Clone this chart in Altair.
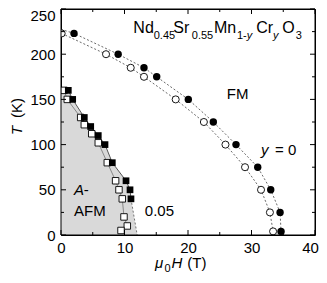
import altair as alt
import pandas as pd

FONT = "Liberation Sans"
W, H = 254, 226

# ---- data ----
circ_T = [223, 200, 185, 175, 150, 125, 100, 75, 50, 25, 4]
circ_H_filled = [2.05, 9.0, 13.07, 15.07, 20.05, 23.99, 27.56, 30.98, 33.03, 34.5, 34.65]
circ_H_open = [0.1, 7.09, 10.98, 13.07, 18.06, 22.5, 25.9, 28.98, 31.5, 32.9, 33.4]
line_f_H = [0.0] + circ_H_filled + [34.65]
line_f_T = [227.5] + circ_T + [0]
line_o_H = circ_H_open + [33.4]
line_o_T = circ_T + [0]

sq_f_T = [160, 150, 130, 120, 110, 100, 80, 60, 50, 40]
sq_f_H = [1.15, 1.84, 3.67, 4.68, 5.87, 6.93, 8.08, 10.24, 10.87, 11.02]
sq_o_T = [160, 150, 130, 122, 112, 102, 80, 60, 50, 40, 20, 10, 5]
sq_o_H = [0.47, 0.99, 3.1, 3.67, 4.84, 5.87, 7.29, 8.6, 9.13, 9.65, 9.92, 10.44, 9.45]
ext_H = [11.02, 12.0]
ext_T = [40, 0]

x_major = [0, 10, 20, 30, 40]
x_minor = [5, 15, 25, 35]
y_major = [0, 50, 100, 150, 200, 250]
y_minor = [25, 75, 125, 175, 225]

# text pieces: (text, H, T, size, italic)
texts = [
    ("Nd", 11.39, 223.1, 16, False),
    ("0.45", 14.6, 216.4, 11, False),
    ("Sr", 17.69, 223.1, 16, False),
    ("0.55", 20.6, 216.4, 11, False),
    ("Mn", 24.1, 223.1, 16, False),
    ("1-", 27.7, 216.4, 11, False),
    ("y", 29.25, 216.4, 11, True),
    ("Cr", 30.75, 223.1, 16, False),
    ("y", 33.4, 216.4, 11, True),
    ("O", 34.85, 223.1, 16, False),
    ("3", 36.95, 216.4, 11, False),
    ("FM", 26.1, 150.4, 15, False),
    ("y", 31.5, 88.5, 15, True),
    ("= 0", 33.7, 88.5, 15, False),
    ("A", 2.05, 44.2, 15, True),
    ("-", 3.6, 44.2, 15, False),
    ("AFM", 2.05, 21, 15, False),
    ("0.05", 13.2, 21, 15, False),
    ("\u03bc", 14.8, -36.5, 15, True),
    ("0", 16.3, -40.9, 11, False),
    ("H", 17.4, -36.5, 15, True),
    ("(T)", 19.9, -36.5, 15, False),
]
ytitle = [("T", -6.1, 110.6, True), ("(K)", -6.1, 129.4, False)]

xs = alt.Scale(domain=[0, 40], nice=False, zero=False)
ys = alt.Scale(domain=[0, 250], nice=False, zero=False)

X = alt.X("H:Q", scale=xs, title=None,
          axis=alt.Axis(values=x_major, ticks=False, tickSize=0, domain=False, grid=False,
                        labelFont=FONT, labelFontSize=15, labelColor="black", labelPadding=5,
                        labelFlush=False,
                        labelOffset={"condition": {"test": "datum.value == 40", "value": -5},
                                     "value": 0}))
Y = alt.Y("T:Q", scale=ys, title=None,
          axis=alt.Axis(values=y_major, ticks=False, tickSize=0, domain=False, grid=False,
                        labelFont=FONT, labelFontSize=15, labelColor="black", labelPadding=6,
                        labelFlush=False,
                        labelOffset={"condition": {"test": "datum.value == 250", "value": 6},
                                     "value": 0}))


def df_line(hs, ts):
    return pd.DataFrame({"H": hs, "T": ts, "i": list(range(len(hs)))})


# gray A-AFM region
area_df = pd.DataFrame({"H": sq_f_H + [ext_H[-1]], "T": sq_f_T + [ext_T[-1]],
                        "H0": [0.0] * (len(sq_f_H) + 1)})
area = alt.Chart(area_df).mark_area(orient="horizontal", color="#d9d9d9", clip=True).encode(
    y=Y, x=X, x2="H0:Q"
)

line_f = alt.Chart(df_line(line_f_H, line_f_T)).mark_line(
    color="#444", strokeWidth=0.8, strokeDash=[2, 2], clip=True
).encode(x=X, y=Y, order="i:Q")
line_o = alt.Chart(df_line(line_o_H, line_o_T)).mark_line(
    color="#444", strokeWidth=0.8, strokeDash=[2, 2], clip=True
).encode(x=X, y=Y, order="i:Q")
sqline_f = alt.Chart(df_line(sq_f_H, sq_f_T)).mark_line(
    color="#555", strokeWidth=1, clip=True
).encode(x=X, y=Y, order="i:Q")
sqline_o = alt.Chart(df_line(sq_o_H, sq_o_T)).mark_line(
    color="#888", strokeWidth=1, clip=True
).encode(x=X, y=Y, order="i:Q")
ext_line = alt.Chart(df_line(ext_H, ext_T)).mark_line(
    color="#555", strokeWidth=0.8, strokeDash=[2, 2], clip=True
).encode(x=X, y=Y, order="i:Q")

c_f = alt.Chart(pd.DataFrame({"H": circ_H_filled, "T": circ_T})).mark_point(
    shape="circle", filled=True, color="black", size=55, opacity=1, clip=True
).encode(x=X, y=Y)
c_o = alt.Chart(pd.DataFrame({"H": circ_H_open, "T": circ_T})).mark_point(
    shape="circle", filled=True, fill="white", stroke="black", strokeWidth=0.9, size=50,
    opacity=1, clip=True
).encode(x=X, y=Y)
s_f = alt.Chart(pd.DataFrame({"H": sq_f_H, "T": sq_f_T})).mark_point(
    shape="square", filled=True, color="black", size=45, opacity=1, clip=True
).encode(x=X, y=Y)
s_o = alt.Chart(pd.DataFrame({"H": sq_o_H, "T": sq_o_T})).mark_point(
    shape="square", filled=True, fill="white", stroke="black", strokeWidth=0.9, size=42,
    opacity=1, clip=True
).encode(x=X, y=Y)


# inward ticks on all four sides
def tick_layers():
    out = []
    for vals, ln in ((x_major, 5), (x_minor, 3)):
        d = pd.DataFrame({"H": vals})
        out.append(alt.Chart(d).mark_rule(color="black", strokeWidth=1).encode(
            x=X, y=alt.value(H), y2=alt.value(H - ln)))
        out.append(alt.Chart(d).mark_rule(color="black", strokeWidth=1).encode(
            x=X, y=alt.value(0), y2=alt.value(ln)))
    for vals, ln in ((y_major, 5), (y_minor, 3)):
        d = pd.DataFrame({"T": vals})
        out.append(alt.Chart(d).mark_rule(color="black", strokeWidth=1).encode(
            y=Y, x=alt.value(0), x2=alt.value(ln)))
        out.append(alt.Chart(d).mark_rule(color="black", strokeWidth=1).encode(
            y=Y, x=alt.value(W), x2=alt.value(W - ln)))
    return out


# frame drawn from the scale domain ends
frame_x = pd.DataFrame({"H": [0, 40]})
frame_y = pd.DataFrame({"T": [0, 250]})
frame = [
    alt.Chart(frame_x).mark_rule(color="black", strokeWidth=1).encode(
        x=X, y=alt.value(0), y2=alt.value(H)),
    alt.Chart(frame_y).mark_rule(color="black", strokeWidth=1).encode(
        y=Y, x=alt.value(0), x2=alt.value(W)),
]

text_layers = []
for size in (16, 15, 11):
    for ital in (False, True):
        rows = [(t, h, T) for (t, h, T, s, it) in texts if s == size and it == ital]
        if not rows:
            continue
        d = pd.DataFrame(rows, columns=["t", "H", "T"])
        text_layers.append(alt.Chart(d).mark_text(
            align="left", baseline="alphabetic", font=FONT, fontSize=size,
            fontStyle="italic" if ital else "normal", color="black"
        ).encode(x=X, y=Y, text="t:N"))

for (t, h, T, ital) in ytitle:
    d = pd.DataFrame({"t": [t], "H": [h], "T": [T]})
    text_layers.append(alt.Chart(d).mark_text(
        align="left", baseline="alphabetic", font=FONT, fontSize=15, angle=270,
        fontStyle="italic" if ital else "normal", color="black"
    ).encode(x=X, y=Y, text="t:N"))

chart = alt.layer(
    area, line_f, line_o, sqline_o, sqline_f, ext_line,
    c_o, c_f, s_o, s_f, *tick_layers(), *frame, *text_layers
).properties(
    width=W, height=H,
    autosize=alt.AutoSizeParams(type="none"),
    padding={"left": 53, "top": 1, "right": 4, "bottom": 40},
).configure_view(stroke="black", strokeWidth=1)

chart.save("out.html", embed_options={"renderer": "svg", "actions": False})
